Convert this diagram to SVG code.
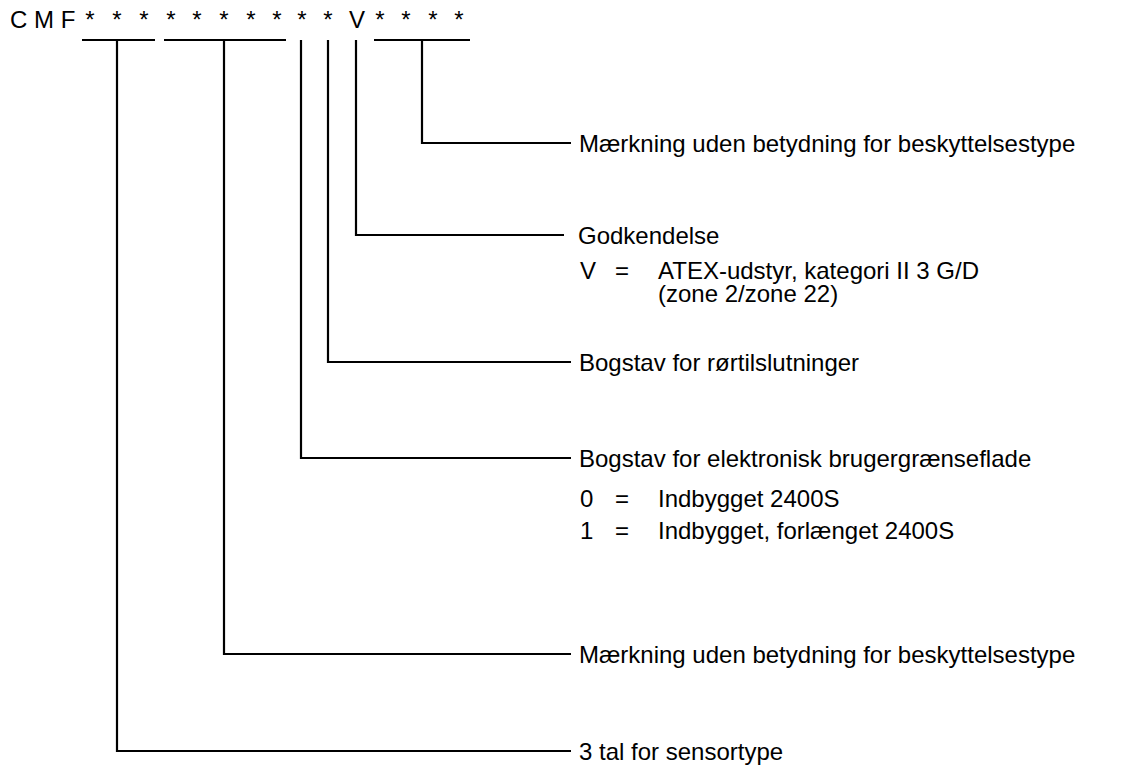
<svg xmlns="http://www.w3.org/2000/svg" width="1137" height="765" viewBox="0 0 1137 765">
<style>
text{font-family:"Liberation Sans",Arial,sans-serif;font-size:24px;fill:#000}
.c{text-anchor:middle}
line,polyline{stroke:#000;stroke-width:2.2;fill:none}
</style>
<rect width="1137" height="765" fill="#fff"/>
<g id="code">
<text x="10" y="28">C M F</text>
<text class="c" x="90" y="28">*</text>
<text class="c" x="117" y="28">*</text>
<text class="c" x="144" y="28">*</text>
<text class="c" x="171" y="28">*</text>
<text class="c" x="197" y="28">*</text>
<text class="c" x="224" y="28">*</text>
<text class="c" x="251" y="28">*</text>
<text class="c" x="277" y="28">*</text>
<text class="c" x="302" y="28">*</text>
<text class="c" x="328" y="28">*</text>
<text class="c" x="357" y="28">V</text>
<text class="c" x="380" y="28">*</text>
<text class="c" x="406" y="28">*</text>
<text class="c" x="433" y="28">*</text>
<text class="c" x="459" y="28">*</text>
</g>
<g id="connectors">
<line x1="82" y1="40" x2="155" y2="40"/>
<line x1="164" y1="40" x2="286" y2="40"/>
<line x1="374" y1="40" x2="470" y2="40"/>
<polyline points="422,40 422,143 571,143"/>
<polyline points="356,40 356,235 564,235"/>
<polyline points="328,40 328,362 571,362"/>
<polyline points="301,40 301,458 571,458"/>
<polyline points="224,40 224,654 571,654"/>
<polyline points="117,40 117,751 571,751"/>
</g>
<g id="label1"><text x="579" y="152">Mærkning uden betydning for beskyttelsestype</text></g>
<g id="label2">
<text x="578" y="244">Godkendelse</text>
<text x="580" y="279">V</text><text x="615" y="279">=</text><text x="658" y="279">ATEX-udstyr, kategori II 3 G/D</text>
<text x="658" y="302">(zone 2/zone 22)</text>
</g>
<g id="label3"><text x="579" y="371">Bogstav for rørtilslutninger</text></g>
<g id="label4">
<text x="579" y="467">Bogstav for elektronisk brugergrænseflade</text>
<text x="580" y="507">0</text><text x="615" y="507">=</text><text x="658" y="507">Indbygget 2400S</text>
<text x="580" y="539">1</text><text x="615" y="539">=</text><text x="658" y="539">Indbygget, forlænget 2400S</text>
</g>
<g id="label5"><text x="579" y="663">Mærkning uden betydning for beskyttelsestype</text></g>
<g id="label6"><text x="579" y="760">3 tal for sensortype</text></g>
</svg>
